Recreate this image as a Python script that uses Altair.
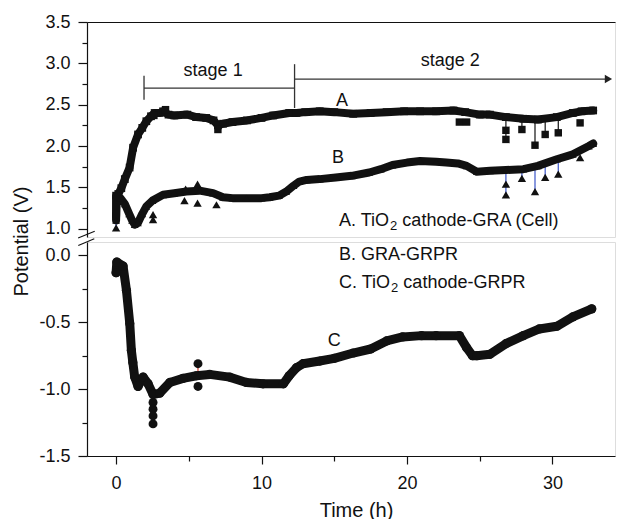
import altair as alt
import pandas as pd

FONT = "Liberation Sans"
INK = "#111111"

# ---------------- data ----------------
t_a = [0.0, 0.0, 0.15, 0.36, 0.6, 0.93, 1.17, 1.51, 1.8, 2.08, 2.4, 2.65, 3.0, 3.23, 3.6, 4.0, 4.9, 5.5,
       6.2, 6.7, 7.0, 7.35, 8.0, 9.0, 10.0, 10.8, 11.9, 12.4, 13.0, 14.0, 15.0, 16.3, 17.5, 18.6, 19.8,
       20.9, 22.0, 23.2, 24.0, 25.0, 25.7, 26.8, 28.0, 29.0, 30.3, 31.4, 32.0, 32.8]
v_a = [1.15, 1.40, 1.42, 1.49, 1.60, 1.74, 1.98, 2.14, 2.22, 2.30, 2.36, 2.40, 2.40, 2.42, 2.38, 2.37, 2.38, 2.35,
       2.34, 2.31, 2.25, 2.27, 2.29, 2.31, 2.34, 2.37, 2.40, 2.40, 2.41, 2.42, 2.41, 2.39, 2.40, 2.41, 2.42,
       2.42, 2.42, 2.43, 2.41, 2.38, 2.38, 2.35, 2.33, 2.32, 2.35, 2.40, 2.42, 2.43]

t_b = [0.0, 0.05, 0.3, 0.6, 0.9, 1.1, 1.28, 1.5, 1.8, 2.08, 2.5, 3.23, 4.0, 4.83, 5.75, 6.67, 7.35, 8.0,
       8.96, 10.0, 10.55, 11.2, 11.7, 12.2, 12.6, 13.1, 14.0, 15.1, 16.2, 17.4, 18.2, 19.0, 20.0, 20.9,
       22.0, 22.7, 23.5, 24.1, 24.8, 25.7, 26.8, 28.0, 29.0, 30.3, 31.4, 32.5, 32.8]
v_b = [1.10, 1.40, 1.37, 1.30, 1.18, 1.10, 1.05, 1.07, 1.18, 1.27, 1.34, 1.41, 1.43, 1.45, 1.46, 1.43, 1.38, 1.37,
       1.37, 1.37, 1.38, 1.40, 1.45, 1.52, 1.57, 1.59, 1.60, 1.62, 1.64, 1.68, 1.72, 1.77, 1.80, 1.82,
       1.81, 1.80, 1.79, 1.76, 1.69, 1.70, 1.71, 1.72, 1.76, 1.84, 1.90, 2.00, 2.03]

t_c = [0.0, 0.05, 0.48, 0.71, 0.94, 1.05, 1.15, 1.28, 1.51, 1.86, 2.2, 2.54, 3.0, 3.7, 4.6, 5.52, 6.43,
       7.8, 8.96, 10.1, 11.5, 11.9, 12.4, 12.85, 14.0, 15.0, 16.3, 17.5, 18.6, 19.7, 21.0, 22.0, 23.6,
       24.1, 24.5, 24.8, 25.7, 26.8, 28.0, 29.1, 30.3, 31.4, 32.7]
v_c = [-0.13, -0.05, -0.08, -0.26, -0.51, -0.71, -0.80, -0.91, -0.98, -0.91, -0.96, -1.04, -1.03, -0.95,
       -0.92, -0.90, -0.89, -0.91, -0.95, -0.96, -0.96, -0.90, -0.84, -0.81, -0.79, -0.77, -0.73, -0.70,
       -0.64, -0.61, -0.60, -0.60, -0.60, -0.69, -0.75, -0.75, -0.74, -0.66, -0.60, -0.55, -0.53, -0.46, -0.40]

# isolated (outlying) markers
a_out_t = [2.6, 3.4, 7.0, 23.6, 24.1, 26.8, 26.8, 27.9, 28.8, 29.5, 30.4, 31.9]
a_out_v = [2.37, 2.44, 2.20, 2.29, 2.29, 2.19, 2.08, 2.20, 2.01, 2.14, 2.16, 2.28]
b_out_t = [0.0, 2.54, 2.54, 4.7, 4.78, 5.6, 5.6, 6.9, 26.8, 26.8, 27.9, 28.8, 29.5, 30.4, 31.9]
b_out_v = [1.01, 1.11, 1.17, 1.34, 1.48, 1.54, 1.31, 1.29, 1.54, 1.41, 1.61, 1.45, 1.62, 1.66, 1.86]
c_out_t = [2.54, 2.54, 2.54, 2.54, 5.63, 5.63]
c_out_v = [-1.10, -1.15, -1.20, -1.26, -0.81, -0.98]

# stems joining outliers to the curves
a_stem_t = [26.8, 27.9, 28.8, 29.5, 30.4]
a_stem_lo = [2.08, 2.20, 2.01, 2.14, 2.16]
a_stem_hi = [2.35, 2.33, 2.32, 2.33, 2.35]
b_stem_t = [0.0, 26.8, 27.9, 28.8, 29.5, 30.4]
b_stem_lo = [1.01, 1.41, 1.61, 1.45, 1.62, 1.66]
b_stem_hi = [1.12, 1.71, 1.72, 1.74, 1.77, 1.84]
c_stem_t = [2.54, 5.63]
c_stem_lo = [-1.26, -0.90]
c_stem_hi = [-1.05, -0.81]

# stage annotations (data space)
bracket_t1 = [1.92, 1.92, 12.27, 12.27]
bracket_t2 = [12.27, 1.92, 12.27, 33.7]
bracket_v1 = [2.70, 2.56, 2.46, 2.81]
bracket_v2 = [2.70, 2.85, 2.99, 2.81]
stage_labels = ["stage 1", "stage 2"]
stage_t = [6.67, 22.98]
stage_v = [2.91, 3.03]

curve_labels_up = ["A", "B"]
curve_label_t_up = [15.53, 15.26]
curve_label_v_up = [2.55, 1.86]
curve_label_lo = ["C"]
curve_label_t_lo = [15.0]
curve_label_v_lo = [-0.64]

# legend lines (text split around the subscript "2")
legend_t = 15.33
legA_head, legA_tail, legA_v = "A. TiO", "cathode-GRA (Cell)", 1.09
legB_text, legB_v = "B. GRA-GRPR", 0.005
legC_head, legC_tail, legC_v = "C. TiO", "cathode-GRPR", -0.205

up_major = [1.0, 1.5, 2.0, 2.5, 3.0, 3.5]
up_minor = [1.25, 1.75, 2.25, 2.75, 3.25]
lo_major = [-1.5, -1.0, -0.5, 0.0]
lo_minor = [-1.25, -0.75, -0.25]
x_major = [0, 10, 20, 30]
x_minor = [5, 15, 25]

# ---------------- scales ----------------
W = 528
H_UP = 215
H_LO = 214
XS = alt.Scale(domain=[-2, 34.3], nice=False, zero=False)
YS_UP = alt.Scale(domain=[0.9, 3.5], nice=False, zero=False)
YS_LO = alt.Scale(domain=[-1.5, 0.1], nice=False, zero=False)

HYPHEN_LABEL = "replace(format(datum.value, '.1f'), '\u2212', '-')"


def X(field="t", axis=None):
    return alt.X(f"{field}:Q", scale=XS, axis=axis)


def Y(scale, field="v", axis=None):
    return alt.Y(f"{field}:Q", scale=scale, axis=axis)


def df(**kw):
    return pd.DataFrame(kw)


common_axis = dict(domainColor=INK, tickColor=INK, domainWidth=1.2, tickWidth=1.2, grid=False,
                   labelFont=FONT, labelColor=INK, labelFontSize=18, titleFont=FONT,
                   titleColor=INK, titleFontWeight="normal", titleFontSize=20)


def curve(t, v, ys, shape, size, width):
    d = df(t=t, v=v)
    line = alt.Chart(d).mark_line(color=INK, strokeWidth=width, strokeJoin="round",
                                  strokeCap="round").encode(x=X(), y=Y(ys))
    pts = alt.Chart(d).mark_point(shape=shape, filled=True, size=size, color=INK,
                                  opacity=1).encode(x=X(), y=Y(ys))
    return line + pts


def outliers(t, v, ys, shape, size):
    return alt.Chart(df(t=t, v=v)).mark_point(shape=shape, filled=True, size=size, color=INK,
                                              opacity=1).encode(x=X(), y=Y(ys))


def stems(t, lo, hi, ys, color):
    return alt.Chart(df(t=t, v=lo, v2=hi)).mark_rule(color=color, strokeWidth=1.2).encode(
        x=X(), y=Y(ys), y2="v2:Q")


def texts(labels, t, v, ys, size=18, align="center", dx=0, dy=0):
    return alt.Chart(df(label=labels, t=t, v=v)).mark_text(
        font=FONT, fontSize=size, color=INK, align=align, baseline="middle", dx=dx, dy=dy).encode(
        x=X(), y=Y(ys), text="label:N")


def sub_legend(head, tail, v, ys, head_px):
    return alt.layer(
        texts([head], [legend_t], [v], ys, align="left"),
        texts(["2"], [legend_t], [v], ys, size=13, align="left", dx=head_px, dy=5),
        texts([tail], [legend_t], [v], ys, align="left", dx=head_px + 7.3 + 5.0),
    )


# ---------------- upper panel ----------------
up_axis_major = alt.Chart(df(t=[0.0], v=[2.0])).mark_point(opacity=0).encode(
    x=X(axis=alt.Axis(orient="top", labels=False, ticks=False, title=None, **common_axis)),
    y=Y(YS_UP, axis=alt.Axis(orient="left", values=up_major, labelExpr=HYPHEN_LABEL, tickSize=9,
                             labelPadding=8, title=None, **common_axis)))
up_axis_minor = alt.Chart(df(t=[0.0], v=[2.0])).mark_point(opacity=0).encode(
    x=X(),
    y=Y(YS_UP, axis=alt.Axis(orient="left", values=up_minor, tickSize=5, labels=False,
                             domain=False, title=None, **common_axis)))

brackets = alt.Chart(df(t=bracket_t1, t2=bracket_t2, v=bracket_v1, v2=bracket_v2)).mark_rule(
    color="#333333", strokeWidth=1.3).encode(x=X(), x2="t2:Q", y=Y(YS_UP), y2="v2:Q")
arrow_head = alt.Chart(df(t=[33.85], v=[2.81])).mark_point(
    shape="triangle-right", filled=True, size=70, color="#222222", opacity=1).encode(x=X(), y=Y(YS_UP))

break_up = alt.Chart(df(t=[-2.61], t2=[-1.47], v=[0.889], v2=[0.970])).mark_rule(
    color=INK, strokeWidth=1.1, clip=False).encode(x=X(), x2="t2:Q", y=Y(YS_UP), y2="v2:Q")

upper = alt.layer(
    up_axis_major, up_axis_minor,
    stems(a_stem_t, a_stem_lo, a_stem_hi, YS_UP, INK),
    stems(b_stem_t, b_stem_lo, b_stem_hi, YS_UP, "#3b55c9"),
    curve(t_a, v_a, YS_UP, "square", 60, 8),
    curve(t_b, v_b, YS_UP, "triangle-up", 60, 8),
    outliers(a_out_t, a_out_v, YS_UP, "square", 55),
    outliers(b_out_t, b_out_v, YS_UP, "triangle-up", 70),
    brackets, arrow_head, break_up,
    texts(stage_labels, stage_t, stage_v, YS_UP),
    texts(curve_labels_up, curve_label_t_up, curve_label_v_up, YS_UP),
    sub_legend(legA_head, legA_tail, legA_v, YS_UP, 51),
).resolve_axis(x="independent", y="independent").properties(width=W, height=H_UP)

# ---------------- lower panel ----------------
lo_axis_major = alt.Chart(df(t=[0.0], v=[-1.0])).mark_point(opacity=0).encode(
    x=X(axis=alt.Axis(orient="bottom", values=x_major, format="d", tickSize=8, labelPadding=10,
                      title="Time (h)", titleX=269, titleY=60, titleAlign="center",
                      titleBaseline="alphabetic", **common_axis)),
    y=Y(YS_LO, axis=alt.Axis(orient="left", values=lo_major, labelExpr=HYPHEN_LABEL, tickSize=9,
                             labelPadding=8, title="Potential (V)", titleX=-66, titleY=-1,
                             titleAlign="center", titleBaseline="middle", **common_axis)))
lo_axis_minor = alt.Chart(df(t=[0.0], v=[-1.0])).mark_point(opacity=0).encode(
    x=X(axis=alt.Axis(orient="bottom", values=x_minor, tickSize=5, labels=False, domain=False,
                      title=None, **common_axis)),
    y=Y(YS_LO, axis=alt.Axis(orient="left", values=lo_minor, tickSize=5, labels=False,
                             domain=False, title=None, **common_axis)))

break_lo = alt.Chart(df(t=[-2.6], t2=[-1.5], v=[0.073], v2=[0.125])).mark_rule(
    color=INK, strokeWidth=1.1, clip=False).encode(x=X(), x2="t2:Q", y=Y(YS_LO), y2="v2:Q")

lower = alt.layer(
    lo_axis_major, lo_axis_minor,
    stems(c_stem_t, c_stem_lo, c_stem_hi, YS_LO, "#d43a2a"),
    curve(t_c, v_c, YS_LO, "circle", 85, 9),
    outliers(c_out_t, c_out_v, YS_LO, "circle", 80),
    break_lo,
    texts(curve_label_lo, curve_label_t_lo, curve_label_v_lo, YS_LO),
    texts([legB_text], [legend_t], [legB_v], YS_LO, align="left"),
    sub_legend(legC_head, legC_tail, legC_v, YS_LO, 52),
).resolve_axis(x="independent", y="independent").properties(width=W, height=H_LO)

chart = alt.vconcat(upper, lower, spacing=5, bounds="flush").properties(
    padding={"left": 2, "top": 4, "right": 0, "bottom": 0}
).configure_view(stroke=None).configure(background="white")

chart.save("out.html", embed_options={"renderer": "svg", "actions": False})
